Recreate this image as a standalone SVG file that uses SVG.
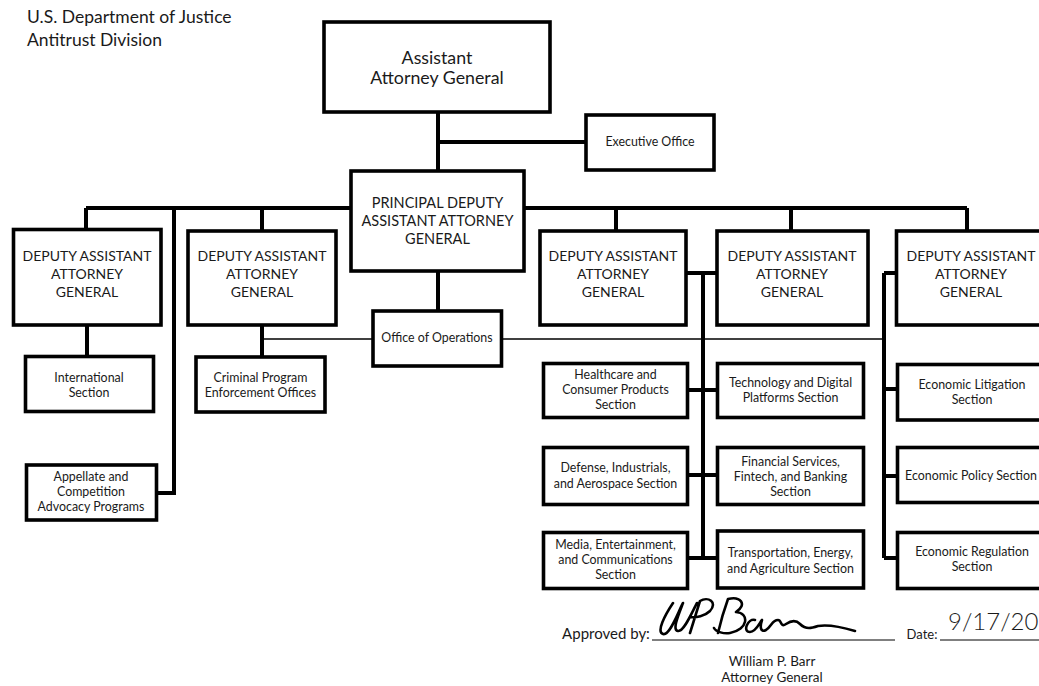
<svg xmlns="http://www.w3.org/2000/svg" width="1039" height="686" viewBox="0 0 1039 686">
<style>
  text { font-family: Lato, "Liberation Sans", sans-serif; fill: #1a1a1a; text-anchor: middle; }
  .box { fill: #fff; stroke: #000; stroke-width: 3.6; }
  .thick { stroke: #000; stroke-width: 4; fill: none; }
  .thin { stroke: #000; stroke-width: 1.6; fill: none; }
  .hdr { font-size: 17.5px; text-anchor: start; }
  .big { font-size: 17.8px; }
  .mid { font-size: 14px; }
  .pd { font-size: 14.5px; }
  .sm { font-size: 12.4px; }
  .sig { font-size: 13.5px; }
</style>
<rect width="1039" height="686" fill="#fff"/>

<g id="header">
  <text class="hdr" x="27" y="23">U.S. Department of Justice</text>
  <text class="hdr" x="27" y="46">Antitrust Division</text>
</g>

<g id="connectors">
  <path class="thick" d="M438 112 V171 M438 142 H586 M438 271 V311"/>
  <path class="thick" d="M86 208 H967 M86 208 V229 M174 208 V493 H156 M262 208 V231 M616 208 V231 M791 208 V231 M967 208 V231"/>
  <path class="thick" d="M87 325 V356 M262 325 V357"/>
  <path class="thin" d="M262 339 H884"/>
  <path class="thick" d="M686 273 H717 M703 273 V558 M688 390 H717 M688 475 H717 M688 558 H717"/>
  <path class="thick" d="M884 273 H897 M884 273 V558 M884 389 H897 M884 476 H897 M884 558 H897"/>
</g>

<g id="aag">
  <rect class="box" x="324" y="22" width="226" height="90"/>
  <text class="big" x="437" y="64">Assistant</text>
  <text class="big" x="437" y="84">Attorney General</text>
</g>
<g id="executive-office">
  <rect class="box" x="586" y="115" width="128" height="55"/>
  <text class="sm" x="650" y="146">Executive Office</text>
</g>
<g id="pdaag">
  <rect class="box" x="351" y="171" width="173" height="100"/>
  <text class="pd" x="437.5" y="208">PRINCIPAL DEPUTY</text>
  <text class="pd" x="437.5" y="226">ASSISTANT ATTORNEY</text>
  <text class="pd" x="437.5" y="244">GENERAL</text>
</g>
<g id="office-of-operations">
  <rect class="box" x="373" y="311" width="128.5" height="55"/>
  <text class="sm" x="437" y="342">Office of Operations</text>
</g>

<g id="daag-1">
  <rect class="box" x="13.5" y="229.5" width="147.5" height="95.5"/>
  <text class="mid" x="87" y="261">DEPUTY ASSISTANT</text>
  <text class="mid" x="87" y="279">ATTORNEY</text>
  <text class="mid" x="87" y="297">GENERAL</text>
</g>
<g id="daag-2">
  <rect class="box" x="188" y="231" width="148" height="94"/>
  <text class="mid" x="262" y="261">DEPUTY ASSISTANT</text>
  <text class="mid" x="262" y="279">ATTORNEY</text>
  <text class="mid" x="262" y="297">GENERAL</text>
</g>
<g id="daag-3">
  <rect class="box" x="540" y="231" width="146" height="94"/>
  <text class="mid" x="613" y="261">DEPUTY ASSISTANT</text>
  <text class="mid" x="613" y="279">ATTORNEY</text>
  <text class="mid" x="613" y="297">GENERAL</text>
</g>
<g id="daag-4">
  <rect class="box" x="717" y="231" width="151" height="94"/>
  <text class="mid" x="792" y="261">DEPUTY ASSISTANT</text>
  <text class="mid" x="792" y="279">ATTORNEY</text>
  <text class="mid" x="792" y="297">GENERAL</text>
</g>
<g id="daag-5">
  <rect class="box" x="896.5" y="231" width="152" height="94"/>
  <text class="mid" x="971" y="261">DEPUTY ASSISTANT</text>
  <text class="mid" x="971" y="279">ATTORNEY</text>
  <text class="mid" x="971" y="297">GENERAL</text>
</g>

<g id="international-section">
  <rect class="box" x="25.5" y="356.5" width="128" height="55"/>
  <text class="sm" x="89" y="382">International</text>
  <text class="sm" x="89" y="397">Section</text>
</g>
<g id="appellate">
  <rect class="box" x="26.5" y="465" width="130" height="55"/>
  <text class="sm" x="91" y="481">Appellate and</text>
  <text class="sm" x="91" y="496">Competition</text>
  <text class="sm" x="91" y="511">Advocacy Programs</text>
</g>
<g id="criminal-program">
  <rect class="box" x="196" y="357" width="129" height="55"/>
  <text class="sm" x="260.5" y="382">Criminal Program</text>
  <text class="sm" x="260.5" y="397">Enforcement Offices</text>
</g>

<g id="healthcare">
  <rect class="box" x="543.5" y="363.5" width="144" height="54"/>
  <text class="sm" x="615.5" y="379">Healthcare and</text>
  <text class="sm" x="615.5" y="394">Consumer Products</text>
  <text class="sm" x="615.5" y="409">Section</text>
</g>
<g id="defense">
  <rect class="box" x="543.5" y="447.5" width="144" height="57"/>
  <text class="sm" x="615.5" y="472">Defense, Industrials,</text>
  <text class="sm" x="615.5" y="488">and Aerospace Section</text>
</g>
<g id="media">
  <rect class="box" x="543.5" y="532.5" width="144" height="56"/>
  <text class="sm" x="615.5" y="549">Media, Entertainment,</text>
  <text class="sm" x="615.5" y="564">and Communications</text>
  <text class="sm" x="615.5" y="579">Section</text>
</g>
<g id="technology">
  <rect class="box" x="717.5" y="363.5" width="146" height="54"/>
  <text class="sm" x="790.5" y="387">Technology and Digital</text>
  <text class="sm" x="790.5" y="402">Platforms Section</text>
</g>
<g id="financial">
  <rect class="box" x="717.5" y="447.5" width="146" height="57"/>
  <text class="sm" x="790.5" y="466">Financial Services,</text>
  <text class="sm" x="790.5" y="481">Fintech, and Banking</text>
  <text class="sm" x="790.5" y="496">Section</text>
</g>
<g id="transportation">
  <rect class="box" x="717.5" y="531" width="146" height="57"/>
  <text class="sm" x="790.5" y="557">Transportation, Energy,</text>
  <text class="sm" x="790.5" y="573">and Agriculture Section</text>
</g>

<g id="economic-litigation">
  <rect class="box" x="897.5" y="364.5" width="151" height="55.5"/>
  <text class="sm" x="972" y="389">Economic Litigation</text>
  <text class="sm" x="972" y="404">Section</text>
</g>
<g id="economic-policy">
  <rect class="box" x="897.5" y="447.5" width="151" height="55"/>
  <text class="sm" x="971" y="480">Economic Policy Section</text>
</g>
<g id="economic-regulation">
  <rect class="box" x="897.5" y="532.5" width="151" height="56"/>
  <text class="sm" x="972" y="556">Economic Regulation</text>
  <text class="sm" x="972" y="571">Section</text>
</g>

<g id="approval">
  <text x="606" y="639" style="font-size:15px">Approved by:</text>
  <line x1="652" y1="640" x2="895" y2="640" stroke="#000" stroke-width="1"/>
  <path d="M673 603 C665 615,656 632,663 634 C670 636,678 612,683 603 C678 616,672 630,678 631 C684 632,692 612,697 603 M690 633 L700 601 C708 596,718 602,710 611 C705 616,696 618,690 617 M718 633 C721 620,724 610,728 599 C740 596,748 604,736 612 C750 613,748 630,730 633 C724 634,716 632,714 628 M755 620 C748 618,742 632,750 632 C756 632,760 622,762 620 C760 626,760 633,766 630 C772 626,772 620,778 620 C782 620,780 628,786 624 C792 620,796 620,800 624 C806 630,812 628,818 626 C830 624,845 628,855 631" fill="none" stroke="#000" stroke-width="2.6" stroke-linecap="round" stroke-linejoin="round"/>
  <text x="922" y="639" style="font-size:13px">Date:</text>
  <line x1="940" y1="640" x2="1039" y2="640" stroke="#000" stroke-width="1"/>
  <text x="948" y="630" style="font-size:24px;font-weight:300;text-anchor:start">9/17/20</text>
  <text class="sig" x="772" y="666">William P. Barr</text>
  <text class="sig" x="772" y="682">Attorney General</text>
</g>
</svg>
